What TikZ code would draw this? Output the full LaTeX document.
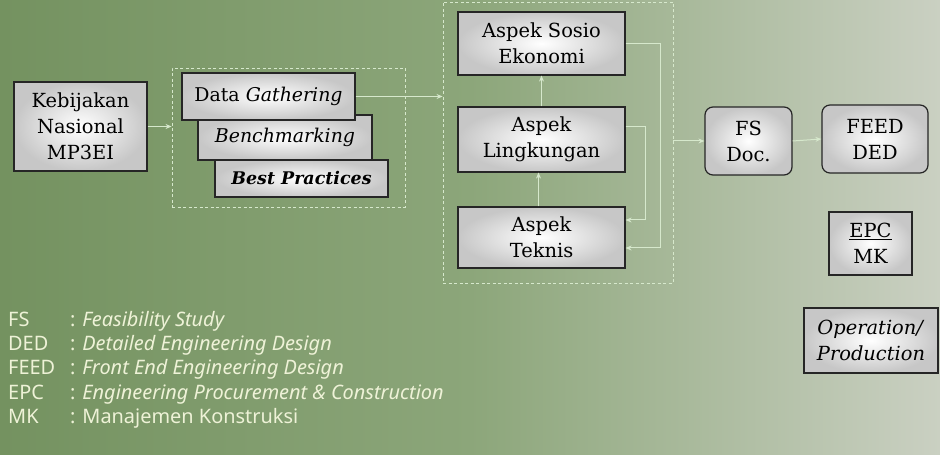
\documentclass[tikz,border=0pt]{standalone}
\usepackage{fontspec}
\setmainfont{DejaVu Serif}
\newfontfamily\legfont{Noto Sans}
\usetikzlibrary{arrows.meta}
\definecolor{bgA}{RGB}{116,146,96}
\definecolor{bgM}{RGB}{140,166,122}
\definecolor{bgB}{RGB}{202,208,194}
\definecolor{connc}{RGB}{214,232,204}
\definecolor{legc}{RGB}{238,242,215}
\begin{document}
\begin{tikzpicture}[x=1bp,y=-1bp,
  box/.style={draw=black!85, line width=1.2bp, inner color=white, outer color=black!22,
    align=center, inner sep=1bp, font=\fontsize{19.5}{26}\selectfont},
  rbox/.style={box, rounded corners=8bp},
  grp/.style={draw=connc, line width=0.9bp, dash pattern=on 3bp off 2.5bp},
  conn/.style={draw=connc, line width=1bp, -{Stealth[length=6bp,width=5bp]}},
  leg/.style={anchor=base west, text=legc, inner sep=0pt, font=\legfont\fontsize{20}{22}\selectfont}
]
\useasboundingbox (0,0) rectangle (940,455);
\shade[left color=bgA, right color=bgB, middle color=bgM] (0,0) rectangle (940,455);

% groups
\node[grp, minimum width=233bp, minimum height=139bp, inner sep=0pt] (g1) at (288.5,137.5) {};
\node[grp, minimum width=230bp, minimum height=281bp, inner sep=0pt] (g2) at (558,142.5) {};

% left
\node[box, minimum width=133bp, minimum height=89bp] (keb) at (80.5,126.5) {Kebijakan\\Nasional\\MP3EI};

\node[box, minimum width=173bp, minimum height=37bp, font=\fontsize{17.5}{22}\selectfont] (bp) at (301.5,178.5) {\textbf{\textit{Best Practices}}};
\node[box, minimum width=174bp, minimum height=45bp, font=\fontsize{19}{22}\selectfont] (bm) at (285,137.5) {\textit{Benchmarking}};
\node[box, minimum width=173bp, minimum height=47bp, font=\fontsize{19}{22}\selectfont] (dg) at (268.5,96.5) {Data \textit{Gathering}};

% aspects
\node[box, minimum width=167bp, minimum height=63bp] (sos) at (541.5,43.5) {Aspek Sosio\\Ekonomi};
\node[box, minimum width=167bp, minimum height=65bp] (lin) at (541.5,139.5) {Aspek\\Lingkungan};
\node[box, minimum width=167bp, minimum height=61bp] (tek) at (541.5,237.5) {Aspek\\Teknis};

% right
\node[rbox, minimum width=87bp, minimum height=68bp] (fs) at (748.5,141) {FS\\Doc.};
\node[rbox, minimum width=106bp, minimum height=68bp] (feed) at (875,139) {FEED\\DED};
\node[box, minimum width=83bp, minimum height=63bp] (epc) at (870.5,243.5) {\underline{EPC}\\MK};
\node[box, minimum width=134bp, minimum height=65bp] (op) at (871,340.5) {\textit{Operation/}\\\textit{Production}};

% connectors
\draw[conn] (keb.east) -- (keb.east -| g1.west);
\draw[conn] (dg.east) -- (dg.east -| g2.west);
\draw[conn] ([xshift=-3bp]tek.north) -- ([xshift=-3bp]lin.south);
\draw[conn] (lin.north) -- (sos.south);
\draw[conn] (sos.east) -- ++(35,0) |- ([yshift=-10.5bp]tek.east);
\draw[conn] ([yshift=12.5bp]lin.east) -- ++(20,0) |- ([yshift=17.5bp]tek.east);
\draw[conn] (fs.west -| g2.east) -- (fs.west);
\draw[conn] (fs.east) -- (feed.west);

% legend
\node[leg] (l1a) at (8,327) {FS};
\node[leg] (l1b) at (70,327) {: \textit{Feasibility Study}};
\node[leg] (l2a) at (8,351) {DED};
\node[leg] (l2b) at (70,351) {: \textit{Detailed Engineering Design}};
\node[leg] (l3a) at (8,375) {FEED};
\node[leg] (l3b) at (70,375) {: \textit{Front End Engineering Design}};
\node[leg] (l4a) at (8,399) {EPC};
\node[leg] (l4b) at (70,399) {: \textit{Engineering Procurement \& Construction}};
\node[leg] (l5a) at (8,423) {MK};
\node[leg] (l5b) at (70,423) {: Manajemen Konstruksi};
\end{tikzpicture}
\end{document}
